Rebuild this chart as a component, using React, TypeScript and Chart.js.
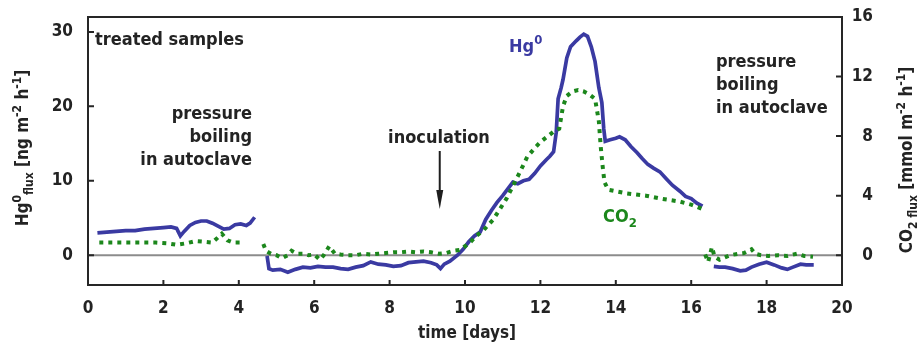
import React, { useEffect, useRef } from 'react';
import { Chart, registerables } from 'chart.js';

Chart.register(...registerables);

// ---------- data ----------
const hgDays = [
  0.25, 0.5, 0.75, 1.0, 1.25, 1.5, 1.75, 2.0, 2.2, 2.35, 2.45, 2.55, 2.7, 2.85, 3.0, 3.15, 3.3, 3.45, 3.6, 3.75, 3.9, 4.05, 4.2, 4.3, 4.42,
  4.55,
  4.75, 4.8, 4.9, 5.1, 5.3, 5.5, 5.7, 5.9, 6.1, 6.3, 6.5, 6.7, 6.9, 7.1, 7.3, 7.5, 7.7, 7.9, 8.1, 8.3, 8.5, 8.7, 8.9, 9.1, 9.25, 9.35, 9.45,
  9.6, 9.8, 9.95, 10.1, 10.25, 10.4, 10.55, 10.7, 10.85, 11.0, 11.15, 11.27, 11.4, 11.55, 11.7, 11.85, 12.0, 12.15, 12.25, 12.35, 12.42,
  12.47, 12.55, 12.6, 12.7, 12.8, 12.95, 13.05, 13.15, 13.25, 13.35, 13.45, 13.55, 13.63, 13.68, 13.72, 13.85, 14.0, 14.1, 14.25, 14.4,
  14.56, 14.7, 14.85, 15.0, 15.17, 15.35, 15.5, 15.7, 15.85, 16.0, 16.15, 16.3,
  16.45,
  16.6, 16.75, 16.9, 17.1, 17.3, 17.45, 17.6, 17.8, 18.0, 18.2, 18.4, 18.55, 18.7, 18.9, 19.05, 19.25,
];
const hgFlux = [
  3.0, 3.1, 3.2, 3.3, 3.3, 3.5, 3.6, 3.7, 3.8, 3.6, 2.6, 3.2, 4.0, 4.4, 4.6, 4.6, 4.3, 3.9, 3.5, 3.6, 4.1, 4.2, 4.0, 4.3, 5.1,
  null,
  -0.1, -1.8, -2.0, -1.9, -2.3, -1.9, -1.6, -1.7, -1.5, -1.6, -1.6, -1.8, -1.9, -1.6, -1.4, -0.9, -1.2, -1.3, -1.5, -1.4, -1.0, -0.9, -0.8, -1.0, -1.3, -1.8, -1.2,
  -0.8, 0.0, 0.8, 1.8, 2.6, 3.1, 4.8, 6.0, 7.1, 8.0, 9.0, 9.8, 9.6, 10.0, 10.2, 11.0, 12.0, 12.8, 13.3, 13.9, 16.5,
  21.0, 22.5, 23.6, 26.5, 28.0, 28.8, 29.3, 29.7, 29.4, 28.0, 26.0, 22.5, 20.5, 17.0, 15.3, 15.5, 15.7, 15.9, 15.5, 14.6,
  13.8, 13.0, 12.2, 11.7, 11.2, 10.2, 9.4, 8.6, 7.9, 7.6, 7.0, 6.6,
  null,
  -1.5, -1.6, -1.6, -1.8, -2.1, -2.0, -1.6, -1.2, -0.95, -1.3, -1.7, -1.9, -1.6, -1.2, -1.3, -1.3,
];

const co2Days = [
  0.3, 0.6, 0.9, 1.2, 1.5, 1.8, 2.1, 2.35, 2.6, 2.85, 3.1, 3.3, 3.45, 3.55, 3.7, 3.85, 4.05,
  4.3,
  4.65, 4.72, 4.85, 5.0, 5.15, 5.3, 5.4, 5.55, 5.7, 5.85, 6.0, 6.15, 6.25, 6.4, 6.55, 6.7, 6.9, 7.1, 7.3, 7.5, 7.7, 7.9, 8.1, 8.3, 8.5,
  8.7, 8.9, 9.1, 9.3, 9.5, 9.7, 9.85, 10.0, 10.15, 10.3, 10.5, 10.75, 10.9, 11.1, 11.3, 11.46, 11.65, 11.85, 12.0, 12.2, 12.35, 12.5,
  12.6, 12.7, 12.85, 13.0, 13.15, 13.3, 13.45, 13.55, 13.6, 13.65, 13.7, 13.8, 14.0, 14.3, 14.8, 15.2, 15.7, 16.0, 16.3,
  16.34,
  16.37, 16.45, 16.55, 16.62, 16.75, 17.03, 17.25, 17.4, 17.6, 17.7, 17.85, 18.05, 18.3, 18.55, 18.8, 19.0, 19.23,
];
const co2Flux = [
  0.85, 0.85, 0.85, 0.85, 0.85, 0.85, 0.8, 0.7, 0.8, 0.95, 0.9, 0.85, 1.2, 1.45, 1.0, 0.85, 0.85,
  null,
  0.75, 0.3, 0.1, 0.0, -0.2, 0.0, 0.3, 0.1, 0.1, 0.0, 0.05, -0.3, 0.0, 0.6, 0.1, 0.05, 0.0, 0.0, 0.1, 0.05, 0.1, 0.15, 0.2, 0.2, 0.25,
  0.2, 0.25, 0.2, 0.1, 0.15, 0.3, 0.35, 0.6, 0.9, 1.3, 1.7, 2.4, 3.0, 3.8, 4.8, 5.6, 6.6, 7.2, 7.6, 8.0, 8.3, 8.5,
  10.0, 10.7, 11.0, 11.1, 11.0, 10.8, 10.5, 9.0, 7.3, 6.0, 4.9, 4.4, 4.3, 4.15, 4.0, 3.8, 3.6, 3.4, 3.1,
  null,
  0.05, -0.45, 0.55, -0.1, -0.3, 0.0, 0.1, 0.15, 0.4, 0.1, 0.0, -0.05, 0.0, -0.05, 0.1, -0.05, -0.1,
];

const xTicks = [0, 2, 4, 6, 8, 10, 12, 14, 16, 18, 20];
const hgTicks = [0, 10, 20, 30];
const co2Ticks = [0, 4, 8, 12, 16];
const inoculationDay = 9.33;

// ---------- styling ----------
const FONT = "'DejaVu Sans Condensed', 'DejaVu Sans', sans-serif";
const TEXT = '#232323';
const BLUE = '#3a3aa2';
const GREEN = '#1c871c';

type Seg = [string, 'n' | 'sup' | 'sub'];

function drawRich(ctx: CanvasRenderingContext2D, segs: Seg[], x: number, y: number, align: 'left' | 'center' | 'right', color: string, size = 18) {
  const small = Math.round(size * 0.7);
  const fontFor = (k: string) => `bold ${k === 'n' ? size : small}px ${FONT}`;
  let w = 0;
  for (const [t, k] of segs) { ctx.font = fontFor(k); w += ctx.measureText(t).width; }
  let cx = align === 'left' ? x : align === 'center' ? x - w / 2 : x - w;
  ctx.fillStyle = color;
  ctx.textAlign = 'left';
  ctx.textBaseline = 'alphabetic';
  for (const [t, k] of segs) {
    ctx.font = fontFor(k);
    const dy = k === 'sup' ? -size * 0.42 : k === 'sub' ? size * 0.3 : 0;
    ctx.fillText(t, cx, y + dy);
    cx += ctx.measureText(t).width;
  }
}

const decor = {
  id: 'decor',
  beforeDatasetsDraw(chart: any) {
    const { ctx, chartArea: a, scales } = chart;
    const y0 = scales.y.getPixelForValue(0);
    ctx.save();
    ctx.strokeStyle = '#8c8c8c';
    ctx.lineWidth = 2;
    ctx.beginPath();
    ctx.moveTo(a.left, y0);
    ctx.lineTo(a.right, y0);
    ctx.stroke();
    ctx.restore();
  },
  afterDatasetsDraw(chart: any) {
    const { ctx, chartArea: a, scales } = chart;
    ctx.save();
    // frame
    ctx.strokeStyle = '#262626';
    ctx.lineWidth = 2;
    ctx.strokeRect(a.left, a.top, a.right - a.left, a.bottom - a.top);
    // inward tick marks
    ctx.beginPath();
    for (const v of xTicks) {
      const px = scales.x.getPixelForValue(v);
      ctx.moveTo(px, a.bottom);
      ctx.lineTo(px, a.bottom - 5);
    }
    for (const v of hgTicks) {
      const py = scales.y.getPixelForValue(v);
      ctx.moveTo(a.left, py);
      ctx.lineTo(a.left + 6, py);
    }
    for (const v of co2Ticks) {
      const py = scales.y1.getPixelForValue(v);
      ctx.moveTo(a.right, py);
      ctx.lineTo(a.right - 6, py);
    }
    ctx.stroke();

    // annotations
    drawRich(ctx, [['treated samples', 'n']], a.left + 7, 45, 'left', TEXT);
    drawRich(ctx, [['pressure', 'n']], 252, 119, 'right', TEXT);
    drawRich(ctx, [['boiling', 'n']], 252, 142, 'right', TEXT);
    drawRich(ctx, [['in autoclave', 'n']], 252, 165, 'right', TEXT);
    drawRich(ctx, [['pressure', 'n']], 716, 67, 'left', TEXT);
    drawRich(ctx, [['boiling', 'n']], 716, 90, 'left', TEXT);
    drawRich(ctx, [['in autoclave', 'n']], 716, 113, 'left', TEXT);
    drawRich(ctx, [['inoculation', 'n']], 439, 143, 'center', TEXT);
    drawRich(ctx, [['Hg', 'n'], ['0', 'sup']], 509, 52, 'left', BLUE);
    drawRich(ctx, [['CO', 'n'], ['2', 'sub']], 603, 222, 'left', GREEN);

    // inoculation arrow
    const ax = scales.x.getPixelForValue(inoculationDay);
    const yTop = 151, yTip = 209;
    ctx.strokeStyle = '#1e1e1e';
    ctx.lineWidth = 2;
    ctx.beginPath();
    ctx.moveTo(ax, yTop);
    ctx.lineTo(ax, yTip - 14);
    ctx.stroke();
    ctx.fillStyle = '#1e1e1e';
    ctx.beginPath();
    ctx.moveTo(ax - 3.5, yTip - 19);
    ctx.lineTo(ax + 3.5, yTip - 19);
    ctx.lineTo(ax, yTip);
    ctx.closePath();
    ctx.fill();

    // axis titles
    drawRich(ctx, [['time [days]', 'n']], (a.left + a.right) / 2 + 2, 338, 'center', TEXT, 17);
    ctx.save();
    ctx.translate(22, 148);
    ctx.rotate(-Math.PI / 2);
    drawRich(ctx, [['Hg', 'n'], ['0', 'sup'], ['flux', 'sub'], [' [ng m', 'n'], ['-2', 'sup'], [' h', 'n'], ['-1', 'sup'], [']', 'n']], 0, 6, 'center', TEXT, 17);
    ctx.restore();
    ctx.save();
    ctx.translate(906, 160);
    ctx.rotate(-Math.PI / 2);
    drawRich(ctx, [['CO', 'n'], ['2 flux', 'sub'], [' [mmol m', 'n'], ['-2', 'sup'], [' h', 'n'], ['-1', 'sup'], [']', 'n']], 0, 6, 'center', TEXT, 17);
    ctx.restore();
    ctx.restore();
  },
};

export default function App() {
  const ref = useRef<HTMLCanvasElement | null>(null);
  useEffect(() => {
    if (!ref.current) return;
    const tickFont = { family: FONT, size: 17, weight: 'bold' as const };
    const noPad = (s: any) => { s.paddingTop = 0; s.paddingBottom = 0; s.paddingLeft = 0; s.paddingRight = 0; };
    const chart = new Chart(ref.current, {
      type: 'line',
      data: {
        datasets: [
          {
            label: 'CO2',
            data: co2Days.map((d, i) => ({ x: d, y: co2Flux[i] })),
            yAxisID: 'y1',
            borderColor: GREEN,
            borderWidth: 4,
            borderDash: [4, 5],
            borderCapStyle: 'butt',
            pointRadius: 0,
            spanGaps: false,
            tension: 0,
            order: 0,
          },
          {
            label: 'Hg0',
            data: hgDays.map((d, i) => ({ x: d, y: hgFlux[i] })),
            yAxisID: 'y',
            borderColor: BLUE,
            borderWidth: 3.7,
            pointRadius: 0,
            spanGaps: false,
            tension: 0,
            order: 1,
          },
        ] as any,
      },
      options: {
        animation: false,
        responsive: false,
        devicePixelRatio: 1,
        layout: { padding: { top: 17, right: 46, left: 0, bottom: 0 } },
        plugins: { legend: { display: false }, tooltip: { enabled: false } },
        scales: {
          x: {
            type: 'linear',
            min: 0,
            max: 20,
            afterBuildTicks: (s: any) => { s.ticks = xTicks.map((v) => ({ value: v })); },
            afterFit: (s: any) => { s.height = 64; noPad(s); },
            grid: { display: false, drawTicks: false },
            border: { display: false },
            ticks: { font: tickFont, color: TEXT, padding: 13, maxRotation: 0, autoSkip: false },
          },
          y: {
            type: 'linear',
            position: 'left',
            min: -4,
            max: 32,
            afterBuildTicks: (s: any) => { s.ticks = hgTicks.map((v) => ({ value: v })); },
            afterFit: (s: any) => { s.width = 88; noPad(s); },
            grid: { display: false, drawTicks: false },
            border: { display: false },
            ticks: { font: tickFont, color: TEXT, padding: 15 },
          },
          y1: {
            type: 'linear',
            position: 'right',
            min: -2,
            max: 16,
            afterBuildTicks: (s: any) => { s.ticks = co2Ticks.map((v) => ({ value: v })); },
            afterFit: (s: any) => { s.width = 31; noPad(s); },
            grid: { display: false, drawTicks: false },
            border: { display: false },
            ticks: { font: tickFont, color: TEXT, padding: 8, crossAlign: 'far' },
          },
        },
      } as any,
      plugins: [decor],
    });
    return () => chart.destroy();
  }, []);
  return (
    <div style={{ position: 'absolute', left: 0, top: 0, width: 919, height: 349, background: '#fff' }}>
      <canvas ref={ref} width={919} height={349} style={{ display: 'block', width: 919, height: 349 }} />
    </div>
  );
}
